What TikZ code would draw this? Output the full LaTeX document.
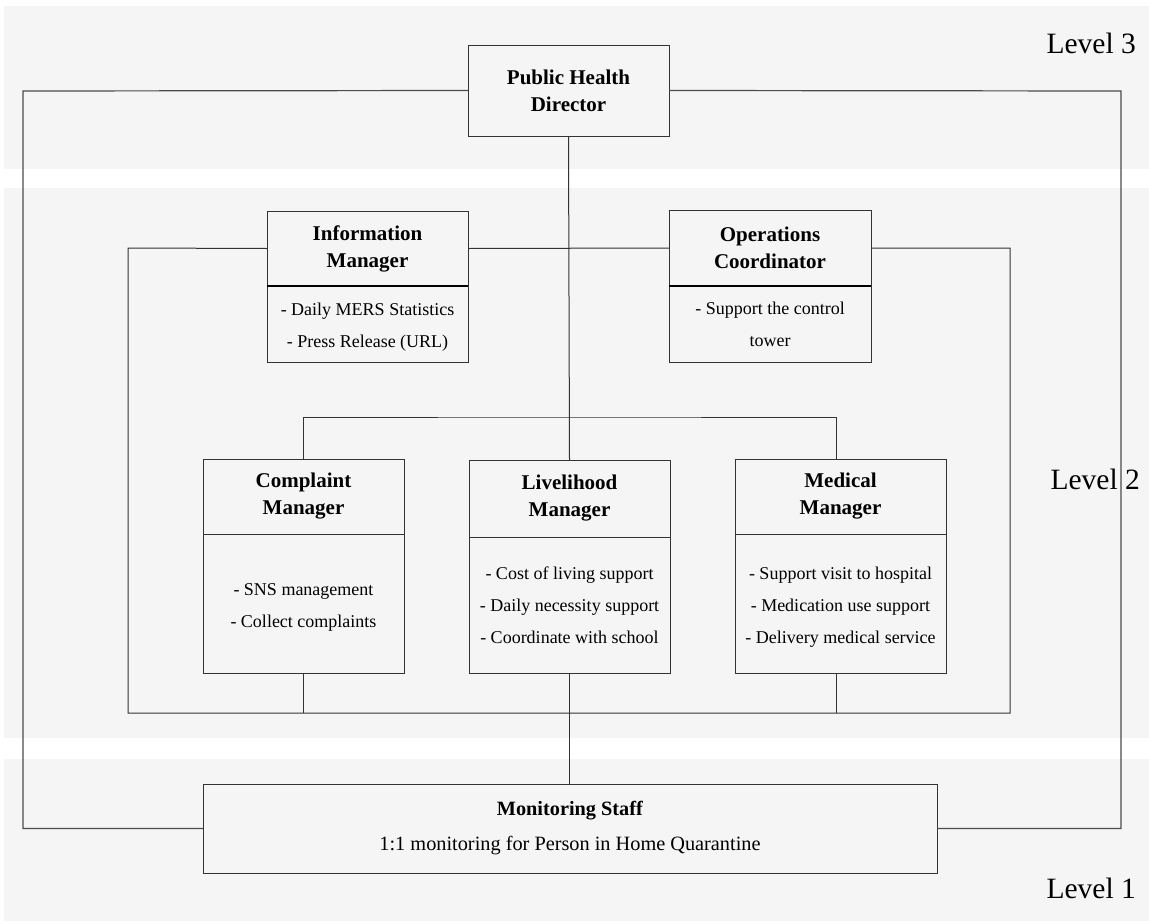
\documentclass[tikz,border=0pt]{standalone}
\usepackage{fontspec}
\setmainfont{Liberation Serif}
\definecolor{bandc}{HTML}{F5F5F5}
\definecolor{ln}{HTML}{333333}
\tikzset{
  bandfill/.style={fill=bandc, draw=none},
  box/.style={draw=ln, line width=1pt, fill=bandc, inner sep=0pt, outer sep=0pt, anchor=north west, align=center},
  ttl/.style={font=\fontsize{21}{27}\selectfont\bfseries},
  bdy/.style={font=\fontsize{18}{32}\selectfont, align=center, inner sep=0pt},
  conn/.style={draw=ln, line width=1pt},
  outer/.style={draw=black!70, line width=1.2pt},
  divider/.style={draw=black, line width=2pt},
  lvl/.style={font=\fontsize{29.5}{34}\selectfont, anchor=east, inner sep=0pt},
}
\begin{document}
\begin{tikzpicture}[x=1pt,y=-1pt]
\useasboundingbox (0,0) rectangle (1149,924);
\fill[white] (0,0) rectangle (1149,924);
% bands
\fill[bandfill] (4,6) rectangle (1149,169);
\fill[bandfill] (4,188) rectangle (1149,738);
\fill[bandfill] (4,759) rectangle (1149,921);
% level labels
\node[lvl] (l3) at (1136,43) {Level 3};
\node[lvl] (l2) at (1140,479) {Level 2};
\node[lvl] (l1) at (1136,888) {Level 1};
% boxes
\node[box, ttl, minimum width=201, minimum height=91] (dir) at (468,45) {Public Health\\Director};
\node[box, ttl, minimum width=201, minimum height=75] (infoH) at (267,211) {Information\\Manager};
\node[box, minimum width=201, minimum height=76] (infoB) at (267,286) {};
\node[bdy] (infoT) at (367.5,327) {- Daily MERS Statistics\\- Press Release (URL)};
\node[box, ttl, minimum width=202, minimum height=76] (opsH) at (669,210) {Operations\\Coordinator};
\node[box, minimum width=202, minimum height=76] (opsB) at (669,286) {};
\node[bdy] (opsT) at (770,324.5) {- Support the control\\tower};
\node[box, ttl, minimum width=201, minimum height=75] (compH) at (203,459) {Complaint\\Manager};
\node[box, minimum width=201, minimum height=139] (compB) at (203,534) {};
\node[bdy] (compT) at (303.5,607) {- SNS management\\- Collect complaints};
\node[box, ttl, minimum width=201, minimum height=77] (liveH) at (469,460) {Livelihood\\Manager};
\node[box, minimum width=201, minimum height=136] (liveB) at (469,537) {};
\node[bdy] (liveT) at (569.5,605) {- Cost of living support\\- Daily necessity support\\- Coordinate with school};
\node[box, ttl, minimum width=211, minimum height=75] (medH) at (735,459) {Medical\\Manager};
\node[box, minimum width=211, minimum height=139] (medB) at (735,534) {};
\node[bdy] (medT) at (840.5,607.5) {- Support visit to hospital\\- Medication use support\\- Delivery medical service};
\node[box, font=\fontsize{20.3}{35}\selectfont, minimum width=734, minimum height=89] (mon) at (203,784) {\textbf{Monitoring Staff}\\1:1 monitoring for Person in Home Quarantine};
% dividers
\draw[divider] (infoH.south west) -- (infoH.south east);
\draw[divider] (opsH.south west) -- (opsH.south east);
% coordinates
\coordinate (oL) at (23,91);
\coordinate (oR) at (1121,91);
\coordinate (iTL) at (128,248);
\coordinate (iBL) at (128,713);
\coordinate (iBR) at (1010,713);
\coordinate (iTR) at (1010,248);
\coordinate (hb) at (569,417);
% outer loop
\draw[outer] (dir.west) -- (oL) |- (mon.west);
\draw[outer] (dir.east) -- (oR) |- (mon.east);
% director to livelihood
\draw[conn] (dir.south) -- (liveH.north);
% level 2 loop
\draw[conn] (infoH.west) -- (iTL) -- (iBL) -- (iBR) -- (iTR) -- (opsH.east);
\draw[conn] (infoH.east) -- (opsH.west);
% branch to complaint and medical
\draw[conn] (compH.north) |- (hb) -| ([xshift=-4pt]medH.north);
\draw[conn] (compB.south) -- (compB.south |- iBL);
\draw[conn] ([xshift=-4pt]medB.south) -- ([xshift=-4pt]medB.south |- iBL);
% livelihood to monitoring
\draw[conn] (liveB.south) -- (liveB.south |- mon.north);
\end{tikzpicture}
\end{document}
